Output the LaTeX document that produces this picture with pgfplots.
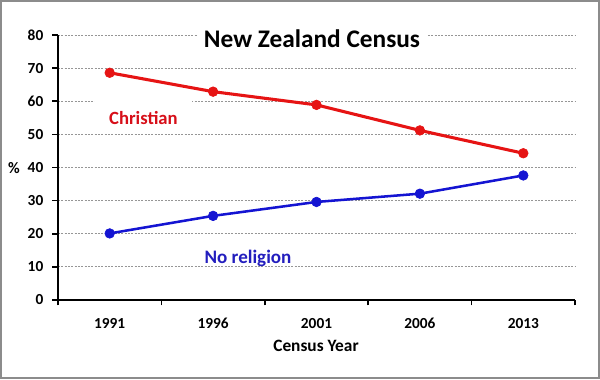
\documentclass[border=0pt]{standalone}
\usepackage{pgfplots}
\pgfplotsset{compat=1.18}
\usepackage{fontspec}
\setmainfont{Carlito}
\definecolor{cred}{RGB}{230,20,20}
\definecolor{credtxt}{RGB}{215,15,25}
\definecolor{cblue}{RGB}{20,20,210}
\definecolor{cbluetxt}{RGB}{35,30,190}
\definecolor{gridgray}{RGB}{150,150,150}
\definecolor{framegray}{RGB}{140,140,140}
\begin{document}
\begin{tikzpicture}
\useasboundingbox (0,0) rectangle (450pt,284.25pt);
\draw[framegray, line width=1.2pt] (0.75pt,0.75pt) rectangle (449.25pt,283.5pt);
\begin{axis}[
  at={(43.5pt,59.25pt)}, anchor=south west,
  scale only axis, width=387.75pt, height=198.75pt,
  xmin=-0.5, xmax=4.5, ymin=0, ymax=80,
  axis x line*=bottom, axis y line*=left,
  axis line style={black, line width=1.5pt, -},
  xtick={0,1,2,3,4},
  xticklabels={1991,1996,2001,2006,2013},
  major x tick style={draw=none},
  minor xtick={-0.5,0.5,1.5,2.5,3.5,4.5},
  minor x tick style={black, line width=1.2pt},
  minor tick length=4pt,
  ytick={0,10,...,80},
  major tick length=4.5pt,
  tick align=outside,
  y tick style={black, line width=1.2pt},
  ymajorgrids,
  grid style={gridgray, line width=0.6pt, dash pattern=on 1.5pt off 1pt},
  /pgf/number format/assume math mode=true,
  ticklabel style={font=\fontsize{11.5}{13}\selectfont\bfseries},
  xticklabel style={yshift=-5.5pt},
  yticklabel style={xshift=-3pt},
  clip=false,
]
\addplot[cred, line width=2.3pt, mark=*, mark size=3.6pt, mark options={solid, fill=cred, draw=cred, line width=0.5pt}]
  coordinates {(0,68.6) (1,62.9) (2,58.9) (3,51.2) (4,44.3)};
\addplot[cblue, line width=1.9pt, mark=*, mark size=3.6pt, mark options={solid, fill=cblue, draw=cblue, line width=0.5pt}]
  coordinates {(0,20.1) (1,25.4) (2,29.6) (3,32.1) (4,37.6)};
\end{axis}
\node[fill=white, inner xsep=5pt, inner ysep=1pt, font=\fontsize{19}{22}\selectfont\bfseries] at (234pt,255pt) {New Zealand Census};
\node[fill=white, anchor=base, inner xsep=10.5pt, inner ysep=0pt, text height=19pt, text depth=3pt, text=credtxt, font=\fontsize{14}{16}\selectfont\bfseries] at (107.6pt,190.5pt) {Christian};
\node[anchor=base, inner sep=0pt, text=cbluetxt, font=\fontsize{14.3}{16}\selectfont\bfseries] at (186pt,87pt) {No religion};
\node[font=\fontsize{12}{14}\selectfont\bfseries] at (10.5pt,158.25pt) {\%};
\node[font=\fontsize{13}{15}\selectfont\bfseries] at (237pt,24.75pt) {Census Year};
\end{tikzpicture}
\end{document}
